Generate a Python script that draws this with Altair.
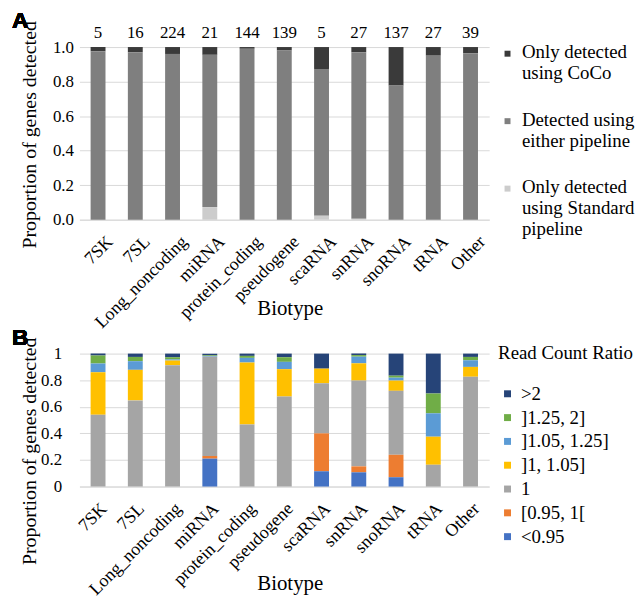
import altair as alt
import pandas as pd

biotypes = ["7SK", "7SL", "Long_noncoding", "miRNA", "protein_coding", "pseudogene",
            "scaRNA", "snRNA", "snoRNA", "tRNA", "Other"]
counts = [5, 16, 224, 21, 144, 139, 5, 27, 137, 27, 39]

# Panel A proportions
a_labels = ["Only detected|using CoCo", "Detected using|either pipeline",
            "Only detected|using Standard|pipeline"]
a_coco = [0.025, 0.03, 0.04, 0.045, 0.01, 0.02, 0.127, 0.03, 0.223, 0.05, 0.037]
a_either = [0.975, 0.97, 0.96, 0.882, 0.99, 0.98, 0.85, 0.965, 0.777, 0.95, 0.963]
a_standard = [0.0, 0.0, 0.0, 0.073, 0.0, 0.0, 0.023, 0.005, 0.0, 0.0, 0.0]
a_colors = ["#3a3a3a", "#7f7f7f", "#cccccc"]

# Panel B proportions (Read Count Ratio)
b_labels = [">2", "]1.25, 2]", "]1.05, 1.25]", "]1, 1.05]", "1", "[0.95, 1[", "<0.95"]
b_gt2 = [0.015, 0.025, 0.027, 0.012, 0.017, 0.027, 0.113, 0.012, 0.166, 0.30, 0.025]
b_125_2 = [0.06, 0.032, 0.017, 0.005, 0.015, 0.035, 0.0, 0.012, 0.015, 0.149, 0.025]
b_105_125 = [0.065, 0.065, 0.008, 0.005, 0.035, 0.055, 0.0, 0.05, 0.022, 0.176, 0.05]
b_1_105 = [0.32, 0.23, 0.035, 0.0, 0.466, 0.206, 0.11, 0.13, 0.077, 0.211, 0.074]
b_eq1 = [0.54, 0.648, 0.913, 0.747, 0.467, 0.677, 0.377, 0.645, 0.481, 0.164, 0.826]
b_095_1 = [0.0, 0.0, 0.0, 0.02, 0.0, 0.0, 0.285, 0.045, 0.169, 0.0, 0.0]
b_lt095 = [0.0, 0.0, 0.0, 0.21, 0.0, 0.0, 0.115, 0.107, 0.07, 0.0, 0.0]
b_colors = ["#264478", "#70AD47", "#5B9BD5", "#FFC000", "#A5A5A5", "#ED7D31", "#4472C4"]

SERIF = "Liberation Serif, Times New Roman, DejaVu Serif, serif"
SANS = "Liberation Sans, Arial, DejaVu Sans, sans-serif"

a_series = [a_coco, a_either, a_standard]
rows = []
for si, (lab, vals) in enumerate(zip(a_labels, a_series)):
    for bt, v in zip(biotypes, vals):
        rows.append({"Biotype": bt, "cat": lab, "value": v, "order": len(a_labels) - si})
dfA = pd.DataFrame(rows)
dfCounts = pd.DataFrame({"Biotype": biotypes, "n": counts, "top": [1.0] * len(biotypes)})

b_series = [b_gt2, b_125_2, b_105_125, b_1_105, b_eq1, b_095_1, b_lt095]
rows = []
for si, (lab, vals) in enumerate(zip(b_labels, b_series)):
    for bt, v in zip(biotypes, vals):
        rows.append({"Biotype": bt, "cat": lab, "value": v, "order": len(b_labels) - si})
dfB = pd.DataFrame(rows)

W = 413
xscale = alt.Scale(domain=biotypes, paddingInner=0.6, paddingOuter=0.3)
yscale = alt.Scale(domain=[0, 1], nice=False)


def xaxis(offset, title_y):
    return alt.Axis(title="Biotype", labelAngle=-45, labelFont=SERIF, labelFontSize=18,
                    labelColor="#000", labelOffset=offset, labelPadding=13,
                    titleFont=SERIF, titleFontSize=21, titleFontWeight="normal",
                    titleColor="#000", titleY=title_y, titleX=212, titleBaseline="top",
                    ticks=False, domainColor="#d9d9d9")


def yaxis(fmt, label_pad, title_y):
    return alt.Axis(title="Proportion of genes detected", values=[0, 0.2, 0.4, 0.6, 0.8, 1.0],
                    format=fmt, labelFont=SERIF, labelFontSize=17, labelColor="#000",
                    labelOverlap=False, labelFlush=False, labelPadding=label_pad,
                    titleFont=SERIF, titleFontSize=20, titleFontWeight="normal",
                    titleColor="#000", titleX=-50, titleY=title_y, titleBaseline="middle",
                    domain=False, ticks=False, grid=True, gridColor="#d9d9d9")


xaxA = xaxis(6, 79)
yaxA = yaxis(".1f", 6, 88)

# square symbol shifted up so it sits beside the first text line
SQ_UP = "M-1,-2.6H1V-0.6H-1Z"

barsA = alt.Chart(dfA).mark_bar(size=15).encode(
    x=alt.X("Biotype:N", scale=xscale, axis=xaxA),
    y=alt.Y("sum(value):Q", stack="zero", scale=yscale, axis=yaxA),
    color=alt.Color("cat:N", scale=alt.Scale(domain=a_labels, range=a_colors),
                    legend=alt.Legend(title=None, orient="none", legendX=422, legendY=2,
                                      symbolType=SQ_UP, symbolSize=36,
                                      symbolStrokeWidth=0, labelFont=SERIF,
                                      labelFontSize=19, labelColor="#000",
                                      labelExpr="split(datum.label, '|')",
                                      labelBaseline="alphabetic", labelOffset=5,
                                      rowPadding=27, labelLimit=200)),
    order=alt.Order("order:Q", sort="ascending"),
)
textA = alt.Chart(dfCounts).mark_text(font=SERIF, fontSize=17, baseline="bottom",
                                      dy=-5, color="#000").encode(
    x=alt.X("Biotype:N", scale=xscale, axis=xaxA),
    y=alt.Y("top:Q", scale=yscale, axis=yaxA),
    text="n:Q",
)
labelA = alt.Chart(dfCounts).mark_text(text="A", font=SANS, fontWeight="bold",
                                       fontSize=23, align="left", baseline="top",
                                       color="#000").encode(
    x=alt.value(-68), y=alt.value(-37))
panelA = alt.layer(barsA, textA, labelA).properties(width=W, height=174)

barsB = alt.Chart(dfB).mark_bar(size=15).encode(
    x=alt.X("Biotype:N", scale=xscale, axis=xaxis(0, 87)),
    y=alt.Y("sum(value):Q", stack="zero", scale=yscale, axis=yaxis("~g", 18, 98)),
    color=alt.Color("cat:N", scale=alt.Scale(domain=b_labels, range=b_colors),
                    legend=alt.Legend(title="Read Count Ratio", orient="none",
                                      legendX=422, legendY=-10,
                                      titleFont=SERIF, titleFontSize=19,
                                      titleFontWeight="normal", titleColor="#000",
                                      titlePadding=22, titleLimit=220,
                                      symbolType="square", symbolSize=49,
                                      symbolStrokeWidth=0, labelFont=SERIF,
                                      labelFontSize=19, labelColor="#000",
                                      rowPadding=4, labelLimit=200, offset=0)),
    order=alt.Order("order:Q", sort="ascending"),
)
labelB = alt.Chart(dfCounts).mark_text(text="B", font=SANS, fontWeight="bold",
                                       fontSize=23, align="left", baseline="top",
                                       color="#000").encode(
    x=alt.value(-68), y=alt.value(-27))
panelB = alt.layer(barsB, labelB).properties(width=W, height=134)

chart = alt.vconcat(panelA, panelB, spacing=135, bounds="flush").resolve_scale(
    color="independent").configure_view(stroke=None).properties(
    padding={"left": 4, "top": 0, "right": 0, "bottom": 0})

chart.save("out.html", embed_options={"renderer": "svg", "actions": False})
